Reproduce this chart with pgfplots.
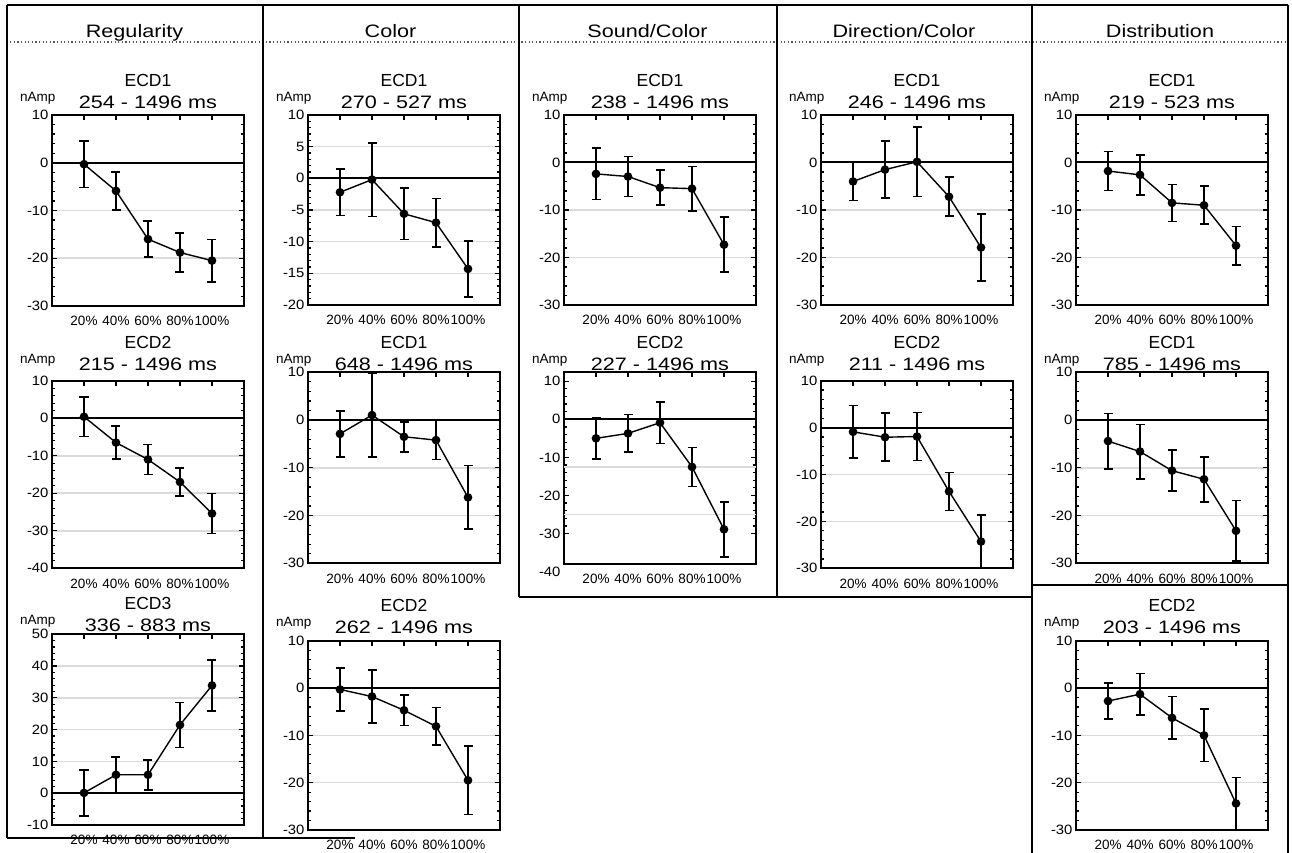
\documentclass[border=0pt]{standalone}
\usepackage{fontspec}
\setmainfont{Liberation Sans}
\newfontfamily\hdrfamily[FakeStretch=1.2]{Liberation Sans}
\newfontfamily\tckfamily[FakeStretch=1.1]{Liberation Sans}
\usepackage{pgfplots}
\pgfplotsset{compat=1.18}
\definecolor{gridc}{gray}{0.86}

\newcommand{\ptitle}[3]{%
 \node[anchor=base, font=\fontsize{17.5}{17.5}\selectfont, yshift=#3pt+22pt] at (rel axis cs:0.5,1) {#1};%
 \node[anchor=base, font=\hdrfamily\fontsize{18}{18}\selectfont, yshift=#3pt] at (rel axis cs:0.5,1) {#2};%
 \node[anchor=base west, inner sep=0pt, font=\fontsize{13.5}{13.5}\selectfont, yshift=#3pt+7pt, xshift=-32pt] at (rel axis cs:0,1) {nAmp};%
}

\pgfplotsset{
 pan/.style={
  scale only axis, width=192pt, anchor=north west,
  xmin=0, xmax=6, xtick={1,2,3,4,5},
  xticklabels={20\%,40\%,60\%,80\%,100\%},
  xtick pos=right, xticklabel pos=left,
  ytick pos=both, yticklabel pos=left,
  tick align=inside,
  minor y tick num=4,
  major tick length=5pt, minor tick length=3pt,
  every tick/.style={black, line width=1.2pt},
  axis line style={line width=2.2pt},
  ymajorgrids, major grid style={gridc, line width=1.6pt},
  yticklabel style={font=\tckfamily\fontsize{13.5}{13.5}\selectfont},
  xticklabel style={font=\fontsize{13.5}{13.5}\selectfont, yshift=-7pt},
  /pgf/number format/assume math mode=true,
  clip=false,
 },
 dat/.style={black, line width=1.4pt, mark=*, mark size=3.6pt, mark options={solid},
  error bars/.cd, y dir=both, y explicit,
  error bar style={line width=1.6pt},
  error mark options={rotate=90, mark size=4.5pt, line width=1.6pt, black}},
 zl/.style={black, line width=2pt, forget plot, mark=none},
}

\begin{document}
\begin{tikzpicture}
\path[use as bounding box] (0,0) rectangle (1292pt,-853pt);
\fill[white] (0,0) rectangle (1292pt,-853pt);

% table frame
\draw[line width=2pt] (6.5pt,-5pt) -- (1288pt,-5pt);
\draw[black!65, line width=1.3pt, dash pattern=on 1.3pt off 2.3pt] (6.5pt,-42pt) -- (1288pt,-42pt);
\draw[line width=2pt] (6.5pt,-5pt) -- (6.5pt,-838pt);
\draw[line width=2pt] (262.5pt,-5pt) -- (262.5pt,-838pt);
\draw[line width=2pt] (518.5pt,-5pt) -- (518.5pt,-597pt);
\draw[line width=2pt] (776.5pt,-5pt) -- (776.5pt,-597pt);
\draw[line width=2pt] (1032pt,-5pt) -- (1032pt,-853pt);
\draw[line width=2pt] (1288pt,-5pt) -- (1288pt,-853pt);
\draw[line width=2pt] (6.5pt,-838pt) -- (355pt,-838pt);
\draw[line width=2pt] (518.5pt,-597pt) -- (1032pt,-597pt);
\draw[line width=2pt] (1032pt,-585pt) -- (1288pt,-585pt);

% headers
\node[anchor=base, font=\hdrfamily\fontsize{18}{18}\selectfont] at (134.5pt,-38pt) {Regularity};
\node[anchor=base, font=\hdrfamily\fontsize{18}{18}\selectfont] at (390.5pt,-38pt) {Color};
\node[anchor=base, font=\hdrfamily\fontsize{18}{18}\selectfont] at (647.5pt,-38pt) {Sound/Color};
\node[anchor=base, font=\hdrfamily\fontsize{18}{18}\selectfont] at (904pt,-38pt) {Direction/Color};
\node[anchor=base, font=\hdrfamily\fontsize{18}{18}\selectfont] at (1160pt,-38pt) {Distribution};

% ===== Regularity =====
\begin{axis}[pan, at={(52pt,-115pt)}, height=191pt, ymin=-30, ymax=10, ytick={-30,-20,...,10}]
\ptitle{ECD1}{254 - 1496 ms}{6}
\addplot[zl] coordinates {(0,0) (6,0)};
\addplot[dat] table[x=x, y=y, y error=e] {
x y e
1 -0.3 4.9
2 -5.9 3.95
3 -16.0 3.8
4 -18.8 4.1
5 -20.5 4.45
};
\end{axis}

\begin{axis}[pan, at={(52pt,-380.7pt)}, height=187.6pt, ymin=-40, ymax=10, ytick={-40,-30,...,10}]
\ptitle{ECD2}{215 - 1496 ms}{10.7}
\addplot[zl] coordinates {(0,0) (6,0)};
\addplot[dat] table[x=x, y=y, y error=e] {
x y e
1 0.4 5.3
2 -6.5 4.4
3 -11.0 4.0
4 -17.0 3.75
5 -25.4 5.35
};
\end{axis}

\begin{axis}[pan, at={(52pt,-634.3pt)}, height=190.7pt, ymin=-10, ymax=50, ytick={-10,0,...,50}]
\ptitle{ECD3}{336 - 883 ms}{2.5}
\addplot[zl] coordinates {(0,0) (6,0)};
\addplot[dat] table[x=x, y=y, y error=e] {
x y e
1 0.1 7.2
2 5.8 5.6
3 5.8 4.7
4 21.5 7.1
5 33.9 8.05
};
\end{axis}

% ===== Color =====
\begin{axis}[pan, at={(308pt,-115pt)}, height=190pt, ymin=-20, ymax=10, ytick={-20,-15,...,10}]
\ptitle{ECD1}{270 - 527 ms}{6}
\addplot[zl] coordinates {(0,0) (6,0)};
\addplot[dat] table[x=x, y=y, y error=e] {
x y e
1 -2.2 3.65
2 -0.2 5.8
3 -5.6 4.05
4 -7.0 3.8
5 -14.3 4.4
};
\end{axis}

\begin{axis}[pan, at={(308pt,-372.3pt)}, height=191pt, ymin=-30, ymax=10, ytick={-30,-20,...,10}]
\ptitle{ECD1}{648 - 1496 ms}{2.3}
\addplot[zl] coordinates {(0,0) (6,0)};
\addplot[dat] table[x=x, y=y, y error=e] {
x y e
1 -2.9 4.85
2 1.05 8.8
3 -3.5 3.15
4 -4.2 4.1
5 -16.2 6.65
};
\end{axis}

\begin{axis}[pan, at={(308pt,-640.7pt)}, height=189.3pt, ymin=-30, ymax=10, ytick={-30,-20,...,10}]
\ptitle{ECD2}{262 - 1496 ms}{7.4}
\addplot[zl] coordinates {(0,0) (6,0)};
\addplot[dat] table[x=x, y=y, y error=e] {
x y e
1 -0.3 4.5
2 -1.8 5.65
3 -4.7 3.25
4 -8.1 4.0
5 -19.5 7.2
};
\end{axis}

% ===== Sound/Color =====
\begin{axis}[pan, at={(564pt,-115pt)}, height=190pt, ymin=-30, ymax=10, ytick={-30,-20,...,10}]
\ptitle{ECD1}{238 - 1496 ms}{6}
\addplot[zl] coordinates {(0,0) (6,0)};
\addplot[dat] table[x=x, y=y, y error=e] {
x y e
1 -2.4 5.4
2 -2.95 4.25
3 -5.3 3.7
4 -5.5 4.65
5 -17.3 5.8
};
\end{axis}

\begin{axis}[pan, at={(564pt,-371.7pt)}, height=192.3pt, ymin=-38, ymax=12.5, ytick={-30,-20,...,10},
  ymajorgrids=false, extra y ticks={-25,-12.5}, extra y tick labels={},
  extra y tick style={grid=major, major tick length=0pt}]
\ptitle{ECD2}{227 - 1496 ms}{1.7}
\node[anchor=east, font=\tckfamily\fontsize{13.5}{13.5}\selectfont, yshift=-8pt] at (rel axis cs:0,0) {-40};
\addplot[zl] coordinates {(0,0) (6,0)};
\addplot[dat] table[x=x, y=y, y error=e] {
x y e
1 -5.0 5.45
2 -3.7 4.95
3 -0.9 5.5
4 -12.5 5.1
5 -28.9 7.2
};
\end{axis}

% ===== Direction/Color =====
\begin{axis}[pan, at={(821pt,-115pt)}, height=190pt, ymin=-30, ymax=10, ytick={-30,-20,...,10}]
\ptitle{ECD1}{246 - 1496 ms}{6}
\addplot[zl] coordinates {(0,0) (6,0)};
\addplot[dat] table[x=x, y=y, y error=e] {
x y e
1 -4.0 4.0
2 -1.5 6.0
3 0.15 7.3
4 -7.2 4.1
5 -17.9 7.0
};
\end{axis}

\begin{axis}[pan, at={(821pt,-380.7pt)}, height=187.6pt, ymin=-30, ymax=10, ytick={-30,-20,...,10}]
\ptitle{ECD2}{211 - 1496 ms}{10.7}
\addplot[zl] coordinates {(0,0) (6,0)};
\addplot[dat] table[x=x, y=y, y error=e] {
x y e
1 -0.9 5.6
2 -2.05 5.1
3 -1.9 5.15
4 -13.6 4.05
5 -24.3 5.65
};
\end{axis}

% ===== Distribution =====
\begin{axis}[pan, at={(1076pt,-115pt)}, height=190pt, ymin=-30, ymax=10, ytick={-30,-20,...,10}]
\ptitle{ECD1}{219 - 523 ms}{6}
\addplot[zl] coordinates {(0,0) (6,0)};
\addplot[dat] table[x=x, y=y, y error=e] {
x y e
1 -1.8 4.1
2 -2.6 4.2
3 -8.5 3.9
4 -9.0 4.0
5 -17.5 4.05
};
\end{axis}

\begin{axis}[pan, at={(1076pt,-372.3pt)}, height=191pt, ymin=-30, ymax=10, ytick={-30,-20,...,10}]
\ptitle{ECD1}{785 - 1496 ms}{2.3}
\addplot[zl] coordinates {(0,0) (6,0)};
\addplot[dat] table[x=x, y=y, y error=e] {
x y e
1 -4.4 5.8
2 -6.6 5.7
3 -10.6 4.3
4 -12.4 4.7
5 -23.2 6.35
};
\end{axis}

\begin{axis}[pan, at={(1076pt,-640.7pt)}, height=189.3pt, ymin=-30, ymax=10, ytick={-30,-20,...,10}]
\ptitle{ECD2}{203 - 1496 ms}{7.4}
\addplot[zl] coordinates {(0,0) (6,0)};
\addplot[dat] table[x=x, y=y, y error=e] {
x y e
1 -2.75 3.85
2 -1.3 4.4
3 -6.3 4.5
4 -10.0 5.55
5 -24.4 5.5
};
\end{axis}
\end{tikzpicture}
\end{document}
